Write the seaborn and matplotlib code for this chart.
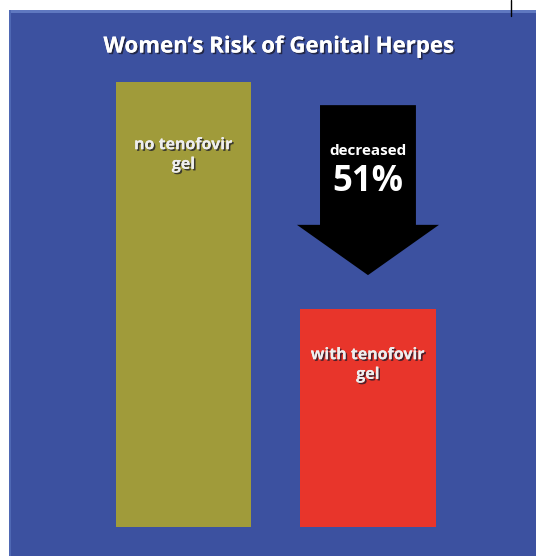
import matplotlib
matplotlib.use("Agg")
import matplotlib.pyplot as plt
import matplotlib.patheffects as pe
from matplotlib.patches import Rectangle, Polygon
import seaborn as sns
import pandas as pd

# Data
categories = ["no tenofovir\ngel", "with tenofovir\ngel"]
risk = [100, 49]
bar_colors = ["#a09b3a", "#e8352b"]
title = "Women\u2019s Risk of Genital Herpes"
change_word = "decreased"
change_pct = "51%"

sns.set_theme(style="white")
plt.rcParams["font.family"] = ["Open Sans", "DejaVu Sans"]

W, H, DPI = 536, 556, 100
fig = plt.figure(figsize=(W / DPI, H / DPI), dpi=DPI, facecolor="white")

ax = fig.add_axes([0, 0, 1, 1])
ax.set_facecolor("none")

# blue panel behind the chart
ax.add_patch(Rectangle((9 / W, 0), 1 - 9 / W, 1 - 10 / H, transform=fig.transFigure,
                       facecolor="#3c51a0", edgecolor="none", zorder=-10))
ax.add_patch(Rectangle((9 / W, 1 - 13 / H), 1 - 9 / W, 3 / H, transform=fig.transFigure,
                       facecolor="#5f78c0", edgecolor="none", zorder=-9))
ax.add_patch(Rectangle((9 / W, 0), 2 / W, 1 - 10 / H, transform=fig.transFigure,
                       facecolor="#4f68b4", edgecolor="none", zorder=-9))
# small tick line at the top right
fig.add_artist(plt.Line2D([511 / W, 511 / W], [1 - 16 / H, 1], transform=fig.transFigure,
                          color="black", lw=1))

df = pd.DataFrame({"group": categories, "risk": risk})
sns.barplot(data=df, x="group", y="risk", hue="group", palette=bar_colors,
            width=0.737, legend=False, ax=ax, saturation=1, linewidth=0,
            edgecolor="none")

ax.set_xlim(-0.995, 1.911)
ax.set_ylim(-6.52, 118.43)
ax.set_axis_off()

shadow = [pe.withSimplePatchShadow(offset=(1.2, -1.2), shadow_rgbFace="#1a1a2a", alpha=0.75),
          pe.Normal()]

fig.text(279 / W, 1 - 47 / H, title, ha="center", va="center", color="white",
         fontsize=16, fontweight="bold", path_effects=shadow)

# labels inside bars
label_drop = [12.4, 8.6]
for i, (lab, val, d) in enumerate(zip(categories, risk, label_drop)):
    ax.text(i, val - d, lab, ha="center", va="top", color="#eeeeee",
            fontsize=11.5, fontweight="bold", linespacing=1.3, path_effects=shadow)

# down arrow between the two bar tops
top = risk[0] - 5.2
head = risk[0] - 32.1
tip = risk[1] + 7.6
sw, hw = 0.26, 0.385
arrow = Polygon([(1 - sw, top), (1 + sw, top), (1 + sw, head), (1 + hw, head),
                 (1, tip), (1 - hw, head), (1 - sw, head)],
                closed=True, facecolor="black", edgecolor="none", zorder=3)
ax.add_patch(arrow)
ax.text(1, top - 10.3, change_word, ha="center", va="center", color="white",
        fontsize=11, fontweight="bold", zorder=4)
ax.text(1, top - 17.3, change_pct, ha="center", va="center", color="white",
        fontsize=25, fontweight="bold", zorder=4)

fig.savefig("out.png", dpi=DPI, facecolor="white")
